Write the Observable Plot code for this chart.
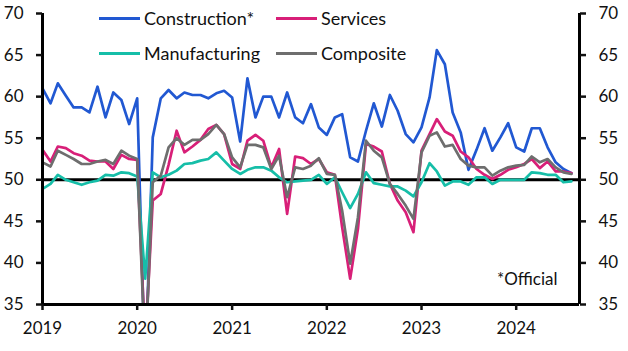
<!DOCTYPE html>
<html>
<head>
<meta charset="utf-8">
<script src="https://cdn.jsdelivr.net/npm/d3@7"></script>
<script src="https://cdn.jsdelivr.net/npm/@observablehq/plot@0.6"></script>
<style>
  html, body { margin: 0; padding: 0; background: #fff; }
  #wrap { position: relative; width: 628px; height: 351px; font-family: Lato, "Open Sans", sans-serif; }
  .leg { position: absolute; display: flex; align-items: center; font-size: 18px; color: #111; white-space: nowrap; }
  .leg span.sw { display: inline-block; width: 41px; height: 3px; margin-right: 4px; }
</style>
</head>
<body>
<div id="wrap"></div>
<script>
// Monthly data, Jan 2019 – Aug 2024
const startYear = 2019;
const construction = [
  61.0, 59.2, 61.6, 60.1, 58.7, 58.7, 58.1, 61.2, 57.5, 60.5, 59.6, 56.7,
  59.8, 26.6, 55.1, 59.8, 60.8, 59.8, 60.5, 60.2, 60.2, 59.8, 60.4, 60.7,
  59.9, 54.6, 62.2, 57.5, 60.0, 60.0, 57.5, 60.5, 57.5, 56.8, 59.1, 56.3,
  55.4, 57.5, 57.9, 52.7, 52.2, 55.9, 59.2, 56.4, 60.2, 58.3, 55.5, 54.5,
  56.3, 59.9, 65.6, 63.9, 58.1, 55.7, 51.2, 53.6, 56.2, 53.5, 55.1, 56.8,
  53.9, 53.4, 56.2, 56.2, 53.9, 52.1, 51.3, 50.8
];
const services = [
  53.6, 52.2, 54.0, 53.8, 53.2, 52.9, 52.3, 52.2, 52.2, 51.3, 53.0, 52.5,
  52.4, 30.0, 47.5, 48.3, 51.8, 55.9, 53.3, 54.0, 54.8, 56.1, 56.6, 55.5,
  51.9, 51.3, 54.7, 55.4, 54.7, 51.5, 53.7, 45.9, 52.8, 52.6, 51.9, 52.5,
  50.9, 50.6, 44.3, 38.1, 44.1, 54.3, 54.0, 53.4, 49.5, 47.5, 46.1, 43.7,
  53.5, 55.5, 57.3, 55.8, 55.3, 53.4, 52.7, 51.3, 50.6, 50.1, 50.6, 51.2,
  51.5, 51.9, 52.5, 51.4, 52.2, 51.0, 51.0, 50.8
];
const manufacturing = [
  48.9, 49.5, 50.6, 50.0, 49.7, 49.4, 49.7, 49.9, 50.6, 50.5, 50.9, 50.8,
  50.4, 38.1, 50.9, 50.3, 50.6, 51.1, 51.9, 52.0, 52.3, 52.5, 53.3, 52.3,
  51.3, 50.7, 51.2, 51.5, 51.5, 51.1, 50.3, 49.7, 49.8, 49.9, 50.0, 50.6,
  49.5, 50.3, 48.5, 46.6, 48.3, 50.9, 49.6, 49.4, 49.2, 49.2, 48.7, 48.0,
  49.7, 52.0, 51.0, 49.3, 49.8, 49.8, 49.4, 50.3, 50.3, 49.5, 50.0, 50.0,
  50.0, 50.0, 50.9, 50.8, 50.6, 50.6, 49.7, 49.8
];
const composite = [
  52.1, 51.6, 53.5, 53.0, 52.5, 51.9, 51.9, 52.2, 52.4, 51.9, 53.5, 52.9,
  52.5, 28.5, 49.7, 50.5, 53.9, 55.0, 54.2, 54.8, 54.8, 55.5, 56.6, 55.5,
  52.7, 51.5, 54.2, 54.2, 53.9, 51.3, 52.9, 47.9, 51.5, 51.3, 51.7, 52.6,
  50.7, 50.6, 46.3, 39.9, 45.5, 54.7, 53.5, 52.7, 49.5, 48.3, 46.9, 45.3,
  53.3, 55.3, 55.7, 54.0, 54.2, 52.5, 51.7, 51.5, 51.5, 50.5, 51.1, 51.5,
  51.7, 51.8, 52.8, 52.1, 52.5, 51.5, 50.9, 50.7
];
const seriesNames = ["Construction*", "Services", "Manufacturing", "Composite"];
const seriesColors = ["#2158d2", "#d81f78", "#16bea8", "#6e6e6e"];
const yearTicks = [2019, 2020, 2021, 2022, 2023, 2024];
const yTicks = [35, 40, 45, 50, 55, 60, 65, 70];
const noteText = "*Official";

const allSeries = [construction, services, manufacturing, composite];
const rows = [];
allSeries.forEach((vals, s) => {
  vals.forEach((v, i) => rows.push({series: seriesNames[s], date: new Date(Date.UTC(startYear, i, 1)), value: v}));
});
const xStart = new Date(Date.UTC(2019, 0, 1));
const xEnd = new Date(Date.UTC(2024, 8, 1));
const yearDates = yearTicks.map(y => new Date(Date.UTC(y, 0, 1)));

const chart = Plot.plot({
  width: 628,
  height: 351,
  marginLeft: 42,
  marginRight: 49,
  marginTop: 13,
  marginBottom: 47,
  style: {fontFamily: "Lato, 'Open Sans', sans-serif", fontSize: "17px", color: "#111", background: "#fff"},
  x: {type: "utc", domain: [xStart, xEnd]},
  y: {domain: [35, 70]},
  color: {domain: seriesNames, range: seriesColors},
  marks: [
    Plot.ruleY([50], {stroke: "#000", strokeWidth: 3}),
    ...seriesNames.map(name => Plot.lineY(rows.filter(d => d.series === name), {
      x: "date", y: "value", stroke: "series", strokeWidth: 2.7, clip: true, strokeLinejoin: "round"
    })),
    Plot.ruleX([xStart, xEnd], {stroke: "#000", strokeWidth: 3}),
    Plot.ruleY([35], {stroke: "#000", strokeWidth: 3}),
    Plot.axisY({anchor: "left", ticks: yTicks, tickSize: 6, tickPadding: 13, strokeWidth: 2.5, label: null}),
    Plot.axisY({anchor: "right", ticks: yTicks, tickSize: 6, tickPadding: 13, strokeWidth: 2.5, label: null}),
    Plot.axisX({ticks: yearDates, tickFormat: d3.utcFormat("%Y"), tickSize: 6, tickPadding: 11, strokeWidth: 2.5, label: null}),
    Plot.text([noteText], {frameAnchor: "bottom-right", textAnchor: "end", lineAnchor: "middle", dx: -22, dy: -25, fontSize: 17})
  ]
});

const wrap = document.getElementById("wrap");
wrap.appendChild(chart);

// Legend (inside plot area, two rows)
const legendPos = [
  {left: 99, top: 18}, {left: 276, top: 18},
  {left: 99, top: 53}, {left: 276, top: 53}
];
seriesNames.forEach((name, i) => {
  const el = document.createElement("div");
  el.className = "leg";
  el.style.left = legendPos[i].left + "px";
  el.style.top = (legendPos[i].top - 12) + "px";
  el.style.height = "24px";
  el.innerHTML = `<span class="sw" style="background:${seriesColors[i]}"></span><span>${name}</span>`;
  wrap.appendChild(el);
});
</script>
</body>
</html>
